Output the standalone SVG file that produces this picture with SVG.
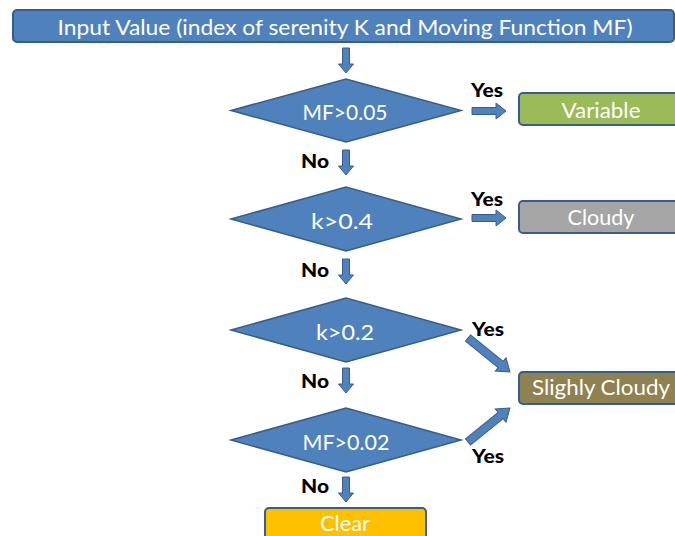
<svg xmlns="http://www.w3.org/2000/svg" xmlns:xlink="http://www.w3.org/1999/xlink" width="675" height="536" viewBox="0 0 675 536">
<style>
.box{stroke:#385D8A;stroke-width:2}
.blue{fill:#4F81BD}
.dia{fill:#4F81BD;stroke:#385D8A;stroke-width:1.5}
.lbl{font-family:Lato,"Liberation Sans",sans-serif;font-size:21px;fill:#FFFFFF;text-anchor:middle}
.yn{font-family:Lato,"Liberation Sans",sans-serif;font-size:19px;font-weight:900;fill:#000000;text-anchor:middle}
.arr{fill:#4F81BD;stroke:#385D8A;stroke-width:1}
</style>
<defs>
<path id="aDown" d="M-3.5,0 L3.5,0 L3.5,16 L7.5,16 L0,25 L-7.5,16 L-3.5,16 Z"/>
<path id="aRight" d="M0,-3.5 L24,-3.5 L24,-8 L34,0 L24,8 L24,3.5 L0,3.5 Z"/>
<path id="aDiag" d="M0,-4 L42,-4 L42,-8.5 L54,0 L42,8.5 L42,4 L0,4 Z"/>
</defs>
<rect width="675" height="536" fill="#FFFFFF"/>

<g id="connectors">
<use xlink:href="#aDown" class="arr" x="346" y="48"/>
<use xlink:href="#aDown" class="arr" x="346" y="150"/>
<use xlink:href="#aDown" class="arr" x="346" y="259"/>
<use xlink:href="#aDown" class="arr" x="346" y="368"/>
<use xlink:href="#aDown" class="arr" x="346" y="477"/>
<use xlink:href="#aRight" class="arr" x="472" y="111"/>
<use xlink:href="#aRight" class="arr" x="472" y="218"/>
<use xlink:href="#aDiag" class="arr" transform="translate(468,338) rotate(39)"/>
<use xlink:href="#aDiag" class="arr" transform="translate(468,442) rotate(-39)"/>
<text class="yn" x="487" y="97" textLength="32" lengthAdjust="spacingAndGlyphs">Yes</text>
<text class="yn" x="487" y="206" textLength="32" lengthAdjust="spacingAndGlyphs">Yes</text>
<text class="yn" x="488" y="336" textLength="32" lengthAdjust="spacingAndGlyphs">Yes</text>
<text class="yn" x="488" y="463" textLength="32" lengthAdjust="spacingAndGlyphs">Yes</text>
<text class="yn" x="315" y="168" textLength="28" lengthAdjust="spacingAndGlyphs">No</text>
<text class="yn" x="315" y="277" textLength="28" lengthAdjust="spacingAndGlyphs">No</text>
<text class="yn" x="315" y="388" textLength="28" lengthAdjust="spacingAndGlyphs">No</text>
<text class="yn" x="315" y="493" textLength="28" lengthAdjust="spacingAndGlyphs">No</text>
</g>

<g id="input">
<rect class="box blue" x="13" y="10" width="661" height="32" rx="4"/>
<text class="lbl" x="345" y="35" textLength="575" lengthAdjust="spacingAndGlyphs">Input Value (index of serenity K and Moving Function MF)</text>
</g>

<g id="d1">
<polygon class="dia" points="231,110.5 346,79 461,110.5 346,142"/>
<text class="lbl" x="345" y="120" textLength="85" lengthAdjust="spacingAndGlyphs">MF&gt;0.05</text>
</g>
<g id="d2">
<polygon class="dia" points="231,219 346,187 461,219 346,251"/>
<text class="lbl" x="342" y="229" textLength="62" lengthAdjust="spacingAndGlyphs">k&gt;0.4</text>
</g>
<g id="d3">
<polygon class="dia" points="231,330 346,298 461,330 346,362"/>
<text class="lbl" x="345" y="340" textLength="58" lengthAdjust="spacingAndGlyphs">k&gt;0.2</text>
</g>
<g id="d4">
<polygon class="dia" points="231,440 346,408 461,440 346,472"/>
<text class="lbl" x="346" y="450" textLength="87" lengthAdjust="spacingAndGlyphs">MF&gt;0.02</text>
</g>

<g id="variable">
<rect class="box" fill="#9BBB59" x="519" y="93" width="170" height="32" rx="4"/>
<text class="lbl" x="601" y="118" textLength="79" lengthAdjust="spacingAndGlyphs">Variable</text>
</g>
<g id="cloudy">
<rect class="box" fill="#A5A5A5" x="519" y="201" width="170" height="32" rx="4"/>
<text class="lbl" x="601" y="225" textLength="67" lengthAdjust="spacingAndGlyphs">Cloudy</text>
</g>
<g id="slightly">
<rect class="box" fill="#8F8150" x="519" y="372" width="170" height="32" rx="4"/>
<text class="lbl" x="601" y="395" textLength="138" lengthAdjust="spacingAndGlyphs">Slighly Cloudy</text>
</g>
<g id="clear">
<rect class="box" fill="#FFC000" x="265" y="508" width="161" height="36" rx="4"/>
<text class="lbl" x="345" y="531" textLength="50" lengthAdjust="spacingAndGlyphs">Clear</text>
</g>
</svg>
